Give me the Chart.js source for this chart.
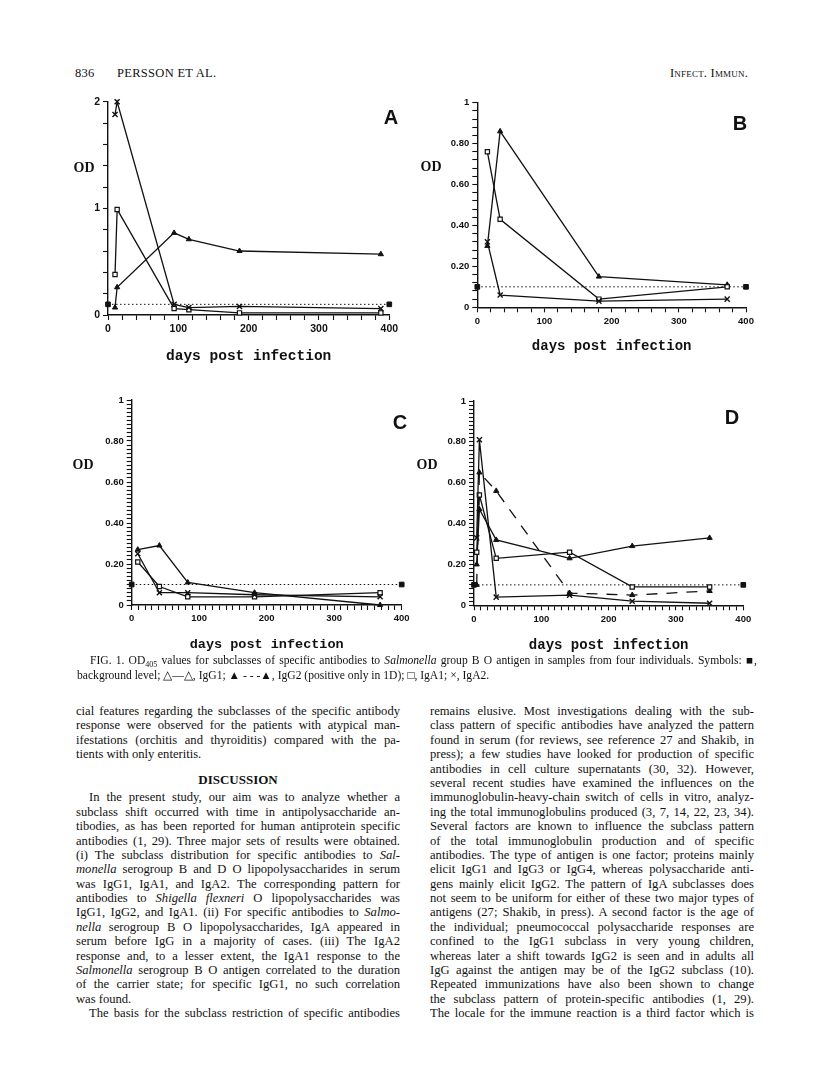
<!DOCTYPE html>
<html>
<head>
<meta charset="utf-8">
<script src="https://cdn.jsdelivr.net/npm/chart.js@4.4.0/dist/chart.umd.min.js"></script>
<style>
  body { margin: 0; background: #fff; }
  #page { position: relative; width: 816px; height: 1084px; overflow: hidden; background: #fff;
          font-family: "Liberation Serif", "Times New Roman", serif; color: #111; }
  canvas { position: absolute; }
  .abs { position: absolute; white-space: nowrap; }
  .mid { transform: translate(-50%, -50%); }
  .od { font-weight: bold; font-size: 14px; }
  .letter { font-family: "Liberation Sans", Arial, sans-serif; font-weight: bold; font-size: 20px; }
  .run { font-size: 12.5px; letter-spacing: 0.3px; }
  .caption { position: absolute; left: 77px; width: 680px; font-size: 11.6px; line-height: 15px; }
  .col { position: absolute; width: 324px; font-size: 12.6px; line-height: 14.4px; }
  .col div, .caption div { text-align: justify; text-align-last: justify; height: 14.4px; }
  .caption div { height: 15px; }
  .col div.end, .caption div.end { text-align-last: left; }
  .col div.ind, .caption div.ind { text-indent: 13px; }
  .col div.head { text-align: center; text-align-last: center; font-weight: bold; font-size: 13px; height: 28.8px; line-height: 36px; }
</style>
</head>
<body>
<div id="page">
  <div class="abs run" style="left:75px; top:66px;">836</div>
  <div class="abs run" style="left:117px; top:66px;">PERSSON ET AL.</div>
  <div class="abs run" style="left:670px; top:66px; font-variant: small-caps; letter-spacing:0.2px;">Infect. Immun.</div>

  <canvas id="chartA"></canvas>
  <canvas id="chartB"></canvas>
  <canvas id="chartC"></canvas>
  <canvas id="chartD"></canvas>

  <div class="abs mid od" style="left:84px; top:168px;">OD</div>
  <div class="abs mid od" style="left:431px; top:167px;">OD</div>
  <div class="abs mid od" style="left:83px; top:465px;">OD</div>
  <div class="abs mid od" style="left:427px; top:465px;">OD</div>
  <div class="abs mid letter" style="left:391px; top:117px;">A</div>
  <div class="abs mid letter" style="left:740px; top:123px;">B</div>
  <div class="abs mid letter" style="left:400px; top:422px;">C</div>
  <div class="abs mid letter" style="left:732px; top:417px;">D</div>

  <div class="caption" style="top:653px;">
    <div class="ind">FIG. 1. OD<sub style="font-size:8px;">405</sub> values for subclasses of specific antibodies to <i>Salmonella</i> group B O antigen in samples from four individuals. Symbols: &#9632;,</div>
    <div class="end">background level; &#9651;&mdash;&#9651;, IgG1; &#9650; - - -&#9650;, IgG2 (positive only in 1D); &#9633;, IgA1; &times;, IgA2.</div>
  </div>

  <div class="col" style="left:76px; top:704px;">
    <div>cial features regarding the subclasses of the specific antibody</div>
    <div>response were observed for the patients with atypical man-</div>
    <div>ifestations (orchitis and thyroiditis) compared with the pa-</div>
    <div class="end">tients with only enteritis.</div>
    <div class="head">DISCUSSION</div>
    <div class="ind">In the present study, our aim was to analyze whether a</div>
    <div>subclass shift occurred with time in antipolysaccharide an-</div>
    <div>tibodies, as has been reported for human antiprotein specific</div>
    <div>antibodies (1, 29). Three major sets of results were obtained.</div>
    <div>(i) The subclass distribution for specific antibodies to <i>Sal-</i></div>
    <div><i>monella</i> serogroup B and D O lipopolysaccharides in serum</div>
    <div>was IgG1, IgA1, and IgA2. The corresponding pattern for</div>
    <div>antibodies to <i>Shigella flexneri</i> O lipopolysaccharides was</div>
    <div>IgG1, IgG2, and IgA1. (ii) For specific antibodies to <i>Salmo-</i></div>
    <div><i>nella</i> serogroup B O lipopolysaccharides, IgA appeared in</div>
    <div>serum before IgG in a majority of cases. (iii) The IgA2</div>
    <div>response and, to a lesser extent, the IgA1 response to the</div>
    <div><i>Salmonella</i> serogroup B O antigen correlated to the duration</div>
    <div>of the carrier state; for specific IgG1, no such correlation</div>
    <div class="end">was found.</div>
    <div class="ind">The basis for the subclass restriction of specific antibodies</div>
  </div>

  <div class="col" style="left:430px; top:704px;">
    <div>remains elusive. Most investigations dealing with the sub-</div>
    <div>class pattern of specific antibodies have analyzed the pattern</div>
    <div>found in serum (for reviews, see reference 27 and Shakib, in</div>
    <div>press); a few studies have looked for production of specific</div>
    <div>antibodies in cell culture supernatants (30, 32). However,</div>
    <div>several recent studies have examined the influences on the</div>
    <div>immunoglobulin-heavy-chain switch of cells in vitro, analyz-</div>
    <div>ing the total immunoglobulins produced (3, 7, 14, 22, 23, 34).</div>
    <div>Several factors are known to influence the subclass pattern</div>
    <div>of the total immunoglobulin production and of specific</div>
    <div>antibodies. The type of antigen is one factor; proteins mainly</div>
    <div>elicit IgG1 and IgG3 or IgG4, whereas polysaccharide anti-</div>
    <div>gens mainly elicit IgG2. The pattern of IgA subclasses does</div>
    <div>not seem to be uniform for either of these two major types of</div>
    <div>antigens (27; Shakib, in press). A second factor is the age of</div>
    <div>the individual; pneumococcal polysaccharide responses are</div>
    <div>confined to the IgG1 subclass in very young children,</div>
    <div>whereas later a shift towards IgG2 is seen and in adults all</div>
    <div>IgG against the antigen may be of the IgG2 subclass (10).</div>
    <div>Repeated immunizations have also been shown to change</div>
    <div>the subclass pattern of protein-specific antibodies (1, 29).</div>
    <div>The locale for the immune reaction is a third factor which is</div>
  </div>
</div>

<script>
// x = days post infection, y = OD405
const daysA = [10, 13, 94, 115, 187, 388];
const igg1A = [0.07, 0.26, 0.77, 0.71, 0.60, 0.57];
const iga1A = [0.38, 0.99, 0.06, 0.05, 0.02, 0.02];
const iga2A = [1.88, 2.00, 0.10, 0.07, 0.08, 0.06];

const daysB = [15, 34, 181, 372];
const igg1B = [0.30, 0.86, 0.15, 0.11];
const iga1B = [0.76, 0.43, 0.04, 0.10];
const iga2B = [0.32, 0.06, 0.03, 0.04];

const daysC = [9, 41, 83, 182, 368];
const igg1C = [0.27, 0.29, 0.11, 0.06, 0.00];
const iga1C = [0.21, 0.09, 0.04, 0.04, 0.06];
const iga2C = [0.25, 0.06, 0.06, 0.05, 0.04];

const daysD = [4, 8, 33, 142, 235, 350];
const igg1D = [0.20, 0.47, 0.32, 0.23, 0.29, 0.33];
const igg2D = [0.10, 0.65, 0.56, 0.06, 0.05, 0.07];
const iga1D = [0.26, 0.54, 0.23, 0.26, 0.09, 0.09];
const iga2D = [0.33, 0.81, 0.04, 0.05, 0.02, 0.01];

// background level (filled squares joined by a dotted line)
const bgDays = [0, 400];
const bgOD = [0.1, 0.1];

// tick labels
const xTickValues = [0, 100, 200, 300, 400];
const yTickValuesA = [0, 1, 2];
const yTickLabelsA = ['0', '1', '2'];
const yTickValues = [0, 0.2, 0.4, 0.6, 0.8, 1];
const yTickLabels = ['0', '0.20', '0.40', '0.60', '0.80', '1'];

const INK = '#111';

function points(days, vals) {
    return days.map((d, i) => ({ x: d, y: vals[i] }));
}

// one line of the plot, with its marker type
function serie(days, vals, kind) {
    const ds = {
        data: points(days, vals),
        showLine: true,
        clip: false,
        borderColor: INK,
        borderWidth: 1.3,
        pointBorderColor: INK,
        pointBackgroundColor: INK,
        pointBorderWidth: 1,
        pointRadius: 3
    };
    if (kind === 'igg1') { ds.pointStyle = 'triangle'; }
    if (kind === 'igg2') { ds.pointStyle = 'triangle'; ds.borderDash = [11, 9]; }
    if (kind === 'iga1') { ds.pointStyle = 'rect'; ds.pointBackgroundColor = '#fff'; ds.pointBorderWidth = 1.2; }
    if (kind === 'iga2') { ds.pointStyle = 'crossRot'; ds.pointRadius = 3.6; ds.pointBorderWidth = 1.4; }
    if (kind === 'bg') { ds.pointStyle = 'rect'; ds.pointRadius = 3.3; ds.borderWidth = 1; ds.borderDash = [1.5, 2.5]; }
    return ds;
}

function labelFor(v, values, labels) {
    for (let i = 0; i < values.length; i++) {
        if (Math.abs(v - values[i]) < 1e-6) return labels[i];
    }
    return '';
}

// box = wanted plot area on the page (px), the canvas is laid around it
function makePanel(id, box, y, xStep, tickSize, titleSize, datasets) {
    const cv = document.getElementById(id);
    const L = Math.round(box.l - 52), T = Math.round(box.t - 16);
    const R = Math.round(box.r + 22), B = Math.round(box.titleY + 13);
    cv.width = R - L;
    cv.height = B - T;
    cv.style.left = L + 'px';
    cv.style.top = T + 'px';

    const tickFont = { family: 'Liberation Sans', weight: 'bold', size: tickSize };
    const tickMarks = { display: true, drawOnChartArea: false, drawTicks: true, tickLength: 5, tickColor: INK, tickWidth: 1.1 };

    new Chart(cv, {
        type: 'scatter',
        data: { datasets: datasets },
        options: {
            responsive: false,
            animation: false,
            layout: { autoPadding: false, padding: { top: box.t - T, right: R - box.r, bottom: 0, left: 0 } },
            plugins: { legend: { display: false }, tooltip: { enabled: false } },
            scales: {
                x: {
                    type: 'linear', min: 0, max: 400,
                    border: { color: INK, width: 1.4 },
                    grid: tickMarks,
                    ticks: {
                        stepSize: xStep, autoSkip: false, maxRotation: 0, padding: 3, color: INK, font: tickFont,
                        callback: v => labelFor(v, xTickValues, xTickValues.map(String))
                    },
                    title: {
                        display: true, text: 'days post infection', color: INK,
                        font: { family: 'Liberation Mono', weight: 'bold', size: titleSize },
                        padding: { top: 0, bottom: B - box.titleY - titleSize * 0.6 }
                    },
                    afterFit: s => { s.height = B - box.b; }
                },
                y: {
                    type: 'linear', min: 0, max: y.max,
                    border: { color: INK, width: 1.4 },
                    grid: tickMarks,
                    ticks: {
                        stepSize: y.step, autoSkip: false, padding: 3, color: INK, font: tickFont,
                        callback: v => labelFor(v, y.values, y.labels)
                    },
                    afterFit: s => { s.width = box.l - L; }
                }
            }
        }
    });
}

document.addEventListener('DOMContentLoaded', function() {
    // A
    makePanel('chartA', { l: 108, t: 101.7, r: 389.3, b: 315, titleY: 356.7 },
        { max: 2, step: 0.2, values: yTickValuesA, labels: yTickLabelsA }, 20, 10.5, 14.5, [
            serie(daysA, iga2A, 'iga2'),
            serie(daysA, iga1A, 'iga1'),
            serie(daysA, igg1A, 'igg1'),
            serie(bgDays, bgOD, 'bg')
        ]);

    // B
    makePanel('chartB', { l: 477.3, t: 102.7, r: 746, b: 307.3, titleY: 346.7 },
        { max: 1, step: 0.04, values: yTickValues, labels: yTickLabels }, 20, 9.5, 14, [
            serie(daysB, iga2B, 'iga2'),
            serie(daysB, iga1B, 'iga1'),
            serie(daysB, igg1B, 'igg1'),
            serie(bgDays, bgOD, 'bg')
        ]);

    // C
    makePanel('chartC', { l: 131.7, t: 400, r: 401.7, b: 605, titleY: 645 },
        { max: 1, step: 0.02, values: yTickValues, labels: yTickLabels }, 10, 9.5, 13.5, [
            serie(daysC, iga2C, 'iga2'),
            serie(daysC, iga1C, 'iga1'),
            serie(daysC, igg1C, 'igg1'),
            serie(bgDays, bgOD, 'bg')
        ]);

    // D
    makePanel('chartD', { l: 474, t: 401, r: 743.3, b: 605.3, titleY: 645 },
        { max: 1, step: 0.02, values: yTickValues, labels: yTickLabels }, 10, 9.5, 14, [
            serie(daysD, iga2D, 'iga2'),
            serie(daysD, iga1D, 'iga1'),
            serie(daysD, igg1D, 'igg1'),
            serie(daysD, igg2D, 'igg2'),
            serie(bgDays, bgOD, 'bg')
        ]);
});
</script>
</body>
</html>
